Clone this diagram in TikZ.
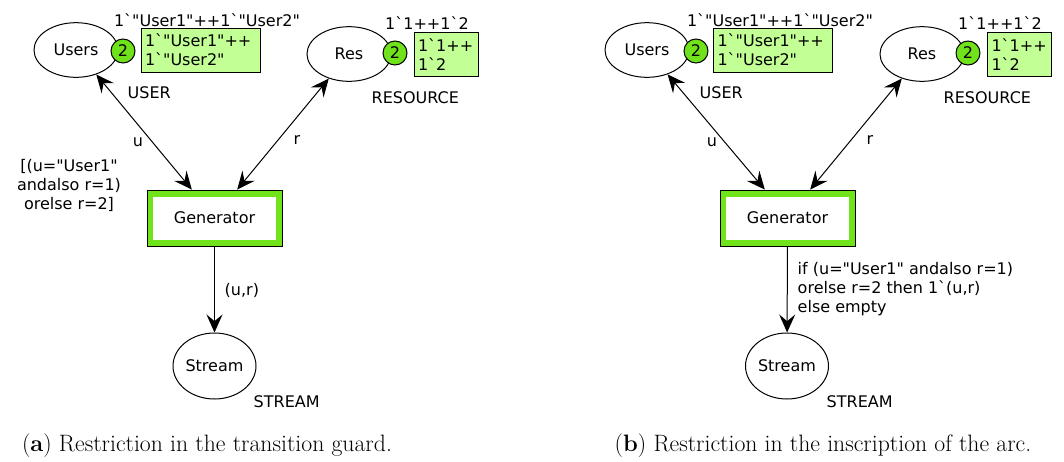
\documentclass[tikz,border=0pt]{standalone}
\usepackage{fontspec}
\newfontfamily\cpn{DejaVu Sans}
\usetikzlibrary{arrows.meta,shapes.geometric}
\definecolor{tokgreen}{HTML}{6FE21C}
\definecolor{markgreen}{HTML}{C2FF94}
\definecolor{trgreen}{HTML}{70E31A}
\newcommand\bq{\textasciigrave}
\begin{document}
\begin{tikzpicture}[x=0.75pt,y=-0.75pt,
  every node/.style={font=\cpn\fontsize{12}{14.25}\selectfont},
  place/.style={ellipse,draw,line width=0.75pt,inner sep=0pt},
  usersplace/.style={place,minimum width=63pt,minimum height=41pt},
  streamplace/.style={place,minimum width=62.25pt,minimum height=49.5pt},
  token/.style={circle,draw,line width=0.75pt,fill=tokgreen,minimum size=18pt,inner sep=0pt},
  marking/.style={draw,fill=markgreen,line width=0.75pt,align=left,inner xsep=3pt,inner ysep=0pt,minimum height=33pt},
  trans/.style={rectangle,draw=black,line width=0.6pt,fill=trgreen,minimum width=101.25pt,minimum height=42pt,
    path picture={\fill[white] ([xshift=4.5pt,yshift=4.5pt]path picture bounding box.south west) rectangle ([xshift=-4.5pt,yshift=-5pt]path picture bounding box.north east);}},
  cpntip/.tip={Stealth[length=13.5pt,width=12pt,inset=5pt]},
  biarc/.style={line width=0.75pt,arrows={cpntip-cpntip}},
  onearc/.style={line width=0.75pt,arrows={-cpntip}},
  caption/.style={font=\rmfamily\fontsize{17.8}{21}\selectfont}
]
\useasboundingbox (0,0) rectangle (1064,461);
% ---------- (a) ----------
\node[usersplace] (users1) at (76,50) {Users};
\node[token] (tu1) at (123,51) {2};
\node[marking,text width=83.25pt] (mu1) at (200.5,50) {1\bq"User1"++\\1\bq"User2"};
\node (iu1) at (207,20) {1\bq"User1"++1\bq"User2"};
\node[usersplace] (res1) at (349,54) {Res};
\node[token] (tr1) at (395,53) {2};
\node[marking,text width=42pt] (mr1) at (446,54.5) {1\bq1++\\1\bq2};
\node (ir1) at (427,23) {1\bq1++1\bq2};
\node[anchor=west] (cu1) at (123,93) {USER};
\node[anchor=west] (cr1) at (367,98) {RESOURCE};
\node[trans] (gen1) at (214.5,218) {Generator};
\node[streamplace] (str1) at (214.5,366) {Stream};
\node[anchor=west] (cs1) at (249,402) {STREAM};
\draw[biarc] (users1) -- ([xshift=-17pt]gen1.north);
\draw[biarc] (res1) -- ([xshift=17pt]gen1.north);
\draw[onearc] (gen1) -- (str1);
\node (lu1) at (138,142) {u};
\node (lr1) at (297,140) {r};
\node[align=center] (guard1) at (69,185) {[(u="User1"\\andalso r=1)\\orelse r=2]};
\node[anchor=west] (ex1) at (220,290) {(u,r)};
\node[caption] (capa) at (207,446) {(\textbf{a}) Restriction in the transition guard.};
% ---------- (b) ----------
\node[usersplace] (users2) at (647,50) {Users};
\node[token] (tu2) at (696,51) {2};
\node[marking,text width=83.25pt] (mu2) at (773,50) {1\bq"User1"++\\1\bq"User2"};
\node (iu2) at (780,20) {1\bq"User1"++1\bq"User2"};
\node[usersplace] (res2) at (922,54) {Res};
\node[token] (tr2) at (968,53) {2};
\node[marking,text width=42pt] (mr2) at (1019.5,54.5) {1\bq1++\\1\bq2};
\node (ir2) at (1000,23) {1\bq1++1\bq2};
\node[anchor=west] (cu2) at (695,93) {USER};
\node[anchor=west] (cr2) at (939,98) {RESOURCE};
\node[trans] (gen2) at (787.5,218) {Generator};
\node[streamplace] (str2) at (787,366) {Stream};
\node[anchor=west] (cs2) at (822,402) {STREAM};
\draw[biarc] (users2) -- ([xshift=-17pt]gen2.north);
\draw[biarc] (res2) -- ([xshift=17pt]gen2.north);
\draw[onearc] (gen2) -- (str2);
\node (lu2) at (712,142) {u};
\node (lr2) at (870,140) {r};
\node[anchor=west,align=left] (ex2) at (793,289) {if (u="User1" andalso r=1)\\orelse r=2 then 1\bq(u,r)\\else empty};
\node[caption] (capb) at (823,446) {(\textbf{b}) Restriction in the inscription of the arc.};
\end{tikzpicture}
\end{document}
